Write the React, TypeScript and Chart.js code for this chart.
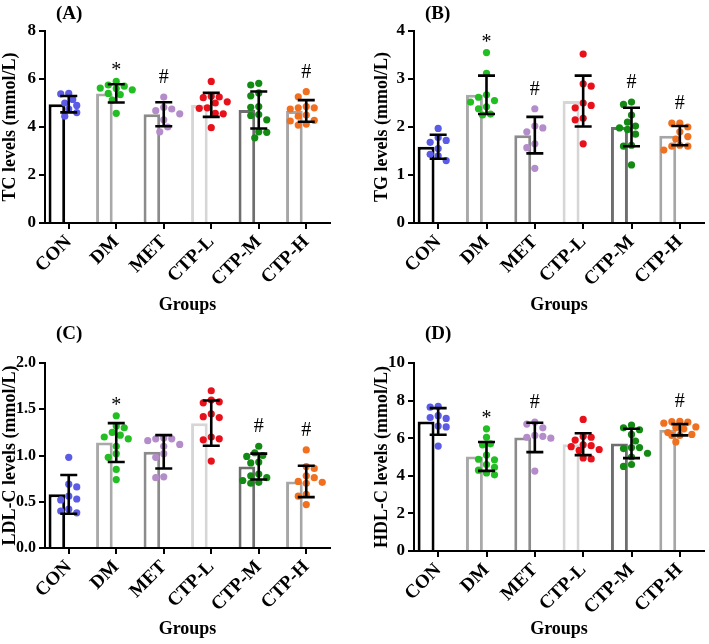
import React, { useEffect, useRef } from "react";
import { Chart, registerables } from "chart.js";

Chart.register(...registerables);

const FONT = "'Liberation Serif', 'Times New Roman', serif";

const groups = ["CON", "DM", "MET", "CTP-L", "CTP-M", "CTP-H"];
const barColors = ["#000000", "#a9a9a9", "#8b8b8b", "#d6d6d6", "#6e6e6e", "#a6a6a6"];
const dotColors = ["#5b5be6", "#22bf22", "#b38cc9", "#e8111b", "#138a13", "#f07020"];

// (A) TC
const tcMeans = [4.95, 5.4, 4.53, 4.92, 4.71, 4.67];
const tcSD = [0.34, 0.38, 0.5, 0.5, 0.77, 0.45];
const tcPoints = [
  [5.4, 5.38, 5.15, 5.0, 4.9, 4.75, 4.6, 4.45],
  [5.9, 5.75, 5.7, 5.62, 5.6, 5.55, 5.4, 5.35, 5.12, 4.57],
  [5.25, 4.82, 4.75, 4.68, 4.55, 4.3, 4.0, 3.8],
  [5.9, 5.28, 5.25, 5.22, 5.05, 5.0, 4.8, 4.78, 4.57, 4.55, 3.97],
  [5.82, 5.75, 5.42, 5.3, 4.85, 4.82, 4.52, 4.48, 4.3, 3.8, 3.78, 3.55],
  [5.47, 5.26, 4.85, 4.8, 4.8, 4.75, 4.5, 4.45, 4.28, 4.25, 4.12, 4.08],
];
const tcMarks = ["", "*", "#", "", "", "#"];
const tcTicks = [0, 2, 4, 6, 8];

// (B) TG
const tgMeans = [1.59, 2.67, 1.83, 2.54, 2.0, 1.82];
const tgSD = [0.25, 0.4, 0.38, 0.53, 0.4, 0.2];
const tgPoints = [
  [1.97, 1.78, 1.72, 1.68, 1.55, 1.43, 1.4, 1.3],
  [3.55, 3.12, 2.67, 2.62, 2.55, 2.52, 2.42, 2.38, 2.27, 2.25],
  [2.38, 2.02, 1.98, 1.9, 1.65, 1.57, 1.14],
  [3.52, 2.9, 2.85, 2.5, 2.45, 2.4, 2.18, 2.15, 1.65],
  [2.52, 2.47, 2.25, 2.1, 2.02, 1.98, 1.95, 1.85, 1.62, 1.6, 1.21],
  [2.08, 2.08, 2.0, 1.9, 1.8, 1.75, 1.62, 1.6, 1.6, 1.52],
];
const tgMarks = ["", "*", "#", "", "#", "#"];
const tgTicks = [0, 1, 2, 3, 4];

// (C) LDL-C
const ldlMeans = [0.58, 1.14, 1.04, 1.35, 0.88, 0.72];
const ldlSD = [0.21, 0.21, 0.18, 0.245, 0.14, 0.17];
const ldlPoints = [
  [0.98, 0.69, 0.66, 0.56, 0.53, 0.52, 0.42, 0.4, 0.38],
  [1.43, 1.32, 1.3, 1.25, 1.22, 1.2, 1.18, 1.1, 1.02, 0.98, 0.85, 0.74],
  [1.19, 1.18, 1.18, 1.16, 1.12, 1.1, 1.02, 0.98, 0.77, 0.76],
  [1.7, 1.6, 1.58, 1.57, 1.45, 1.42, 1.41, 1.2, 1.18, 1.17, 0.94],
  [1.1, 1.03, 1.0, 0.99, 0.93, 0.92, 0.8, 0.78, 0.76, 0.73, 0.71, 0.7],
  [1.06, 0.88, 0.86, 0.78, 0.76, 0.72, 0.71, 0.7, 0.58, 0.56, 0.47],
];
const ldlMarks = ["", "*", "", "", "#", "#"];
const ldlTicks = [0, 0.5, 1.0, 1.5, 2.0];

// (D) HDL-C
const hdlMeans = [6.89, 5.03, 6.04, 5.68, 5.72, 6.45];
const hdlSD = [0.71, 0.77, 0.78, 0.58, 0.78, 0.3];
const hdlPoints = [
  [7.7, 7.65, 7.2, 7.1, 7.05, 6.65, 6.6, 5.58],
  [6.5, 6.05, 5.7, 5.65, 5.1, 4.88, 4.85, 4.6, 4.45, 4.3, 4.15, 4.05],
  [6.85, 6.75, 6.55, 6.15, 6.1, 6.05, 6.0, 4.25],
  [7.0, 6.1, 6.05, 5.9, 5.65, 5.6, 5.55, 5.4, 5.35, 4.95, 4.9],
  [6.7, 6.55, 6.45, 6.2, 5.85, 5.5, 5.45, 5.5, 5.2, 5.0, 4.6, 4.5],
  [6.9, 6.88, 6.85, 6.8, 6.6, 6.55, 6.5, 6.3, 6.2, 6.15, 6.15, 5.8],
];
const hdlMarks = ["", "*", "#", "", "", "#"];
const hdlTicks = [0, 2, 4, 6, 8, 10];

type PanelCfg = {
  label: string;
  yTitle: string;
  ticks: number[];
  decimals: number;
  tickSize: number;
  means: number[];
  sds: number[];
  points: number[][];
  marks: string[];
  left: number;
  top: number;
  w: number;
  h: number;
  padLeft: number;
  padRight: number;
  padTop: number;
  padBottom: number;
  yWidth: number;
  bottom: number;
};

const panels: PanelCfg[] = [
  { label: "(A)", yTitle: "TC levels (mmol/L)", ticks: tcTicks, decimals: 0, tickSize: 17, means: tcMeans, sds: tcSD, points: tcPoints, marks: tcMarks,
    left: 0, top: 0, w: 354, h: 320, padLeft: 0, padRight: 24, padTop: 31, padBottom: 0, yWidth: 45, bottom: 223 },
  { label: "(B)", yTitle: "TG levels (mmol/L)", ticks: tgTicks, decimals: 0, tickSize: 17, means: tgMeans, sds: tgSD, points: tgPoints, marks: tgMarks,
    left: 354, top: 0, w: 355, h: 320, padLeft: 18, padRight: 5, padTop: 31, padBottom: 0, yWidth: 42, bottom: 223 },
  { label: "(C)", yTitle: "LDL-C levels (mmol/L)", ticks: ldlTicks, decimals: 1, tickSize: 16, means: ldlMeans, sds: ldlSD, points: ldlPoints, marks: ldlMarks,
    left: 0, top: 320, w: 354, h: 324, padLeft: 0, padRight: 24, padTop: 43, padBottom: 0, yWidth: 45, bottom: 228 },
  { label: "(D)", yTitle: "HDL-C levels (mmol/L)", ticks: hdlTicks, decimals: 0, tickSize: 17, means: hdlMeans, sds: hdlSD, points: hdlPoints, marks: hdlMarks,
    left: 354, top: 320, w: 355, h: 324, padLeft: 18, padRight: 5, padTop: 43, padBottom: 0, yWidth: 42, bottom: 231 },
];

// simple beeswarm layout (pixel space) -> offsets in category units
function swarm(values: number[], pxPerUnit: number, catPx: number): number[] {
  const order = values.map((_, i) => i).sort((a, b) => values[b] - values[a]);
  const placed: { x: number; y: number }[] = [];
  const offs = new Array(values.length).fill(0);
  const s = 8;
  const d = 7.2;
  let flip = 1;
  for (const i of order) {
    const y = values[i] * pxPerUnit;
    const cands = [0, 0.5, -0.5, 1, -1, 1.5, -1.5, 2, -2].map((c) => c * s * flip);
    let best = 0;
    let bestScore = -Infinity;
    for (const c of cands) {
      let minD = Infinity;
      for (const p of placed) {
        const dd = Math.hypot(p.x - c, p.y - y);
        if (dd < minD) minD = dd;
      }
      if (minD >= d) {
        best = c;
        break;
      }
      if (minD > bestScore) {
        bestScore = minD;
        best = c;
      }
    }
    placed.push({ x: best, y });
    offs[i] = best / catPx;
    flip = -flip;
  }
  return offs;
}

function Panel({ cfg }: { cfg: PanelCfg }) {
  const ref = useRef<HTMLCanvasElement>(null);
  useEffect(() => {
    if (!ref.current) return;
    const yMax = cfg.ticks[cfg.ticks.length - 1];
    const step = cfg.ticks[1] - cfg.ticks[0];
    const pxPerUnit = (cfg.bottom - cfg.padTop) / yMax;
    const catPx = (cfg.w - cfg.padRight - cfg.padLeft - cfg.yWidth) / groups.length;
    const scatter: { x: number; y: number }[] = [];
    const colors: string[] = [];
    cfg.points.forEach((vals, gi) => {
      const offs = swarm(vals, pxPerUnit, catPx);
      vals.forEach((v, k) => {
        scatter.push({ x: gi + offs[k], y: v });
        colors.push(dotColors[gi]);
      });
    });

    const xHeight = cfg.h - cfg.padBottom - cfg.bottom;

    const overlay = {
      id: "overlay",
      afterDatasetsDraw(chart: any) {
        const ctx = chart.ctx as CanvasRenderingContext2D;
        const xs = chart.scales.x;
        const ys = chart.scales.y;
        ctx.save();
        // error bars
        ctx.strokeStyle = "#000";
        ctx.lineWidth = 2.6;
        ctx.lineCap = "butt";
        cfg.means.forEach((m, i) => {
          const x = xs.getPixelForValue(i);
          const yt = ys.getPixelForValue(m + cfg.sds[i]);
          const yb = ys.getPixelForValue(m - cfg.sds[i]);
          const hw = 8.5;
          ctx.beginPath();
          ctx.moveTo(x, yt);
          ctx.lineTo(x, yb);
          ctx.moveTo(x - hw, yt);
          ctx.lineTo(x + hw, yt);
          ctx.moveTo(x - hw, yb);
          ctx.lineTo(x + hw, yb);
          ctx.stroke();
        });
        // significance marks
        ctx.fillStyle = "#000";
        ctx.font = `20px ${FONT}`;
        ctx.textAlign = "center";
        ctx.textBaseline = "alphabetic";
        cfg.marks.forEach((mk, i) => {
          if (!mk) return;
          const top = Math.max(...cfg.points[i]);
          const x = xs.getPixelForValue(i);
          const yp = ys.getPixelForValue(top);
          const base = mk === "*" ? yp - 5 : yp - 14;
          ctx.fillText(mk, x, base);
        });
        // panel label
        ctx.font = `bold 19px ${FONT}`;
        ctx.textAlign = "left";
        ctx.textBaseline = "middle";
        ctx.fillText(cfg.label, chart.chartArea.left + 11, 14);
        ctx.restore();
      },
    };

    const tickFont = { family: FONT, size: cfg.tickSize, weight: "bold" as const };
    const titleFont = { family: FONT, size: 18, weight: "bold" as const };
    const chart = new Chart(ref.current, {
      type: "bar",
      data: {
        labels: groups,
        datasets: [
          {
            type: "bar",
            data: cfg.means,
            backgroundColor: "#ffffff",
            borderColor: barColors,
            borderWidth: 3,
            borderSkipped: "start",
            barPercentage: 0.7,
            categoryPercentage: 1,
            order: 2,
          } as any,
          {
            type: "scatter",
            data: scatter,
            xAxisID: "x2",
            pointBackgroundColor: colors,
            pointBorderWidth: 0,
            pointRadius: 3.6,
            order: 1,
          } as any,
        ],
      },
      options: {
        animation: false,
        responsive: false,
        events: [],
        layout: { padding: { left: cfg.padLeft, right: cfg.padRight, top: cfg.padTop, bottom: cfg.padBottom } },
        plugins: { legend: { display: false }, tooltip: { enabled: false }, title: { display: false } },
        scales: {
          x: {
            type: "category",
            offset: true,
            grid: { display: true, drawOnChartArea: false, drawTicks: true, tickLength: 6, color: "#000", lineWidth: 2, offset: false },
            border: { display: true, color: "#000", width: 2 },
            ticks: { color: "#000", font: { family: FONT, size: 19, weight: "bold" }, minRotation: 45, maxRotation: 45, autoSkip: false, padding: 2 },
            title: { display: true, text: "Groups", color: "#000", font: titleFont, padding: { top: 4, bottom: 4 } },
            afterFit: (s: any) => {
              s.height = xHeight;
            },
          },
          x2: { type: "linear", min: -0.5, max: 5.5, display: false, offset: false, grace: 0, grid: { offset: false } },
          y: {
            min: 0,
            max: yMax,
            grid: { display: true, drawOnChartArea: false, drawTicks: true, tickLength: 6, color: "#000", lineWidth: 2 },
            border: { display: true, color: "#000", width: 2 },
            ticks: {
              color: "#000",
              font: tickFont,
              stepSize: step,
              padding: 3,
              callback: (v: any) => Number(v).toFixed(cfg.decimals),
            },
            title: { display: true, text: cfg.yTitle, color: "#000", font: titleFont, padding: { top: 0, bottom: 2 } },
            afterFit: (s: any) => {
              s.width = cfg.yWidth;
            },
          },
        },
      } as any,
      plugins: [overlay],
    });
    return () => chart.destroy();
  }, [cfg]);

  return (
    <div style={{ position: "absolute", left: cfg.left, top: cfg.top, width: cfg.w, height: cfg.h }}>
      <canvas ref={ref} width={cfg.w} height={cfg.h} style={{ width: cfg.w, height: cfg.h, display: "block" }} />
    </div>
  );
}

export default function App() {
  return (
    <div style={{ position: "absolute", left: 0, top: 0, width: 709, height: 644, background: "#fff" }}>
      {panels.map((p) => (
        <Panel key={p.label} cfg={p} />
      ))}
    </div>
  );
}
